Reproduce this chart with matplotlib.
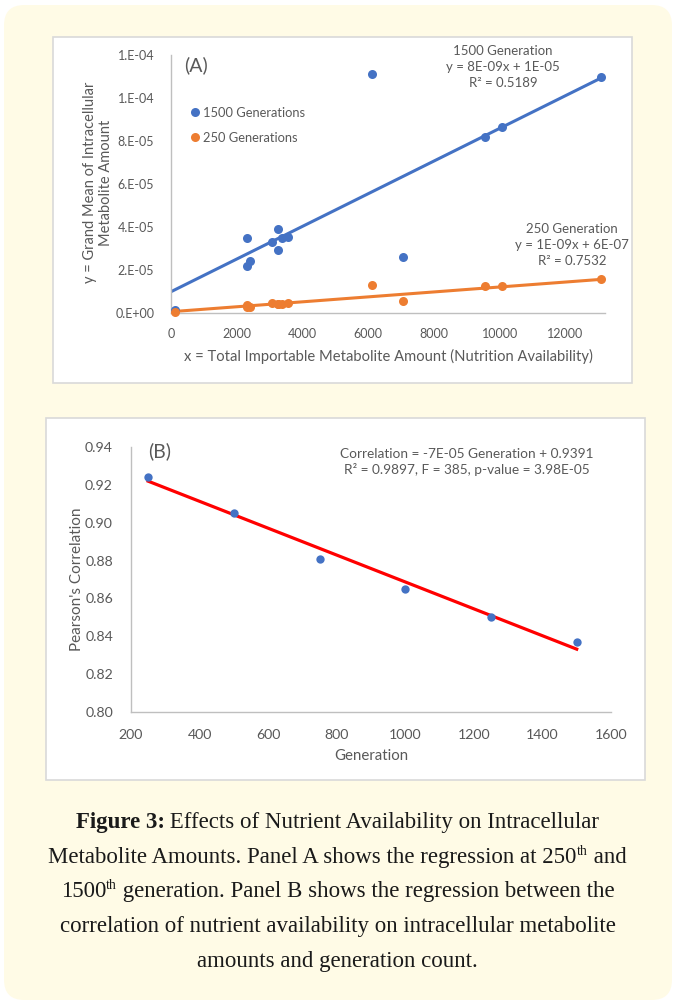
import matplotlib
matplotlib.use("Agg")
import matplotlib.pyplot as plt
from matplotlib.patches import FancyBboxPatch, Rectangle
import numpy as np

# ---------------- data ----------------
x_nutrition = [120, 2320, 2320, 2400, 3065, 3250, 3250, 3390, 3570, 6110, 7070, 9560, 10070, 13080]
y_1500 = [1.4e-6, 34.7e-6, 22.0e-6, 24.3e-6, 32.9e-6, 38.9e-6, 29.3e-6, 34.7e-6, 35.5e-6,
          111e-6, 25.9e-6, 81.7e-6, 86.7e-6, 109.9e-6]
y_250 = [0.3e-6, 3.7e-6, 2.6e-6, 3.0e-6, 4.5e-6, 4.2e-6, 4.0e-6, 4.3e-6, 4.6e-6,
         13.0e-6, 5.6e-6, 12.6e-6, 12.7e-6, 15.7e-6]
fit_1500 = (7.6e-9, 9.9e-6)    # slope, intercept (as drawn)
fit_250 = (1.15e-9, 0.6e-6)
fit_range_A = (0, 13080)

generation = [250, 500, 750, 1000, 1250, 1500]
pearson = [0.9242, 0.905, 0.881, 0.8649, 0.850, 0.8368]
fit_B = (-7.1e-5, 0.9397)

xticks_A = [0, 2000, 4000, 6000, 8000, 10000, 12000]
yticks_A = [0, 2e-5, 4e-5, 6e-5, 8e-5, 1e-4, 1.2e-4]
yticklabels_A = ["0.E+00", "2.E-05", "4.E-05", "6.E-05", "8.E-05", "1.E-04", "1.E-04"]
xticks_B = [200, 400, 600, 800, 1000, 1200, 1400, 1600]
yticks_B = [0.80, 0.82, 0.84, 0.86, 0.88, 0.90, 0.92, 0.94]

# caption segments: (text, style) with style 'r' regular, 'b' bold, 's' superscript
caption_lines = [
    [("Figure 3:", "b"), (" Effects of Nutrient Availability on Intracellular", "r")],
    [("Metabolite Amounts. Panel A shows the regression at 250", "r"), ("th", "s"), (" and", "r")],
    [("1500", "r"), ("th", "s"), (" generation. Panel B shows the regression between the", "r")],
    [("correlation of nutrient availability on intracellular metabolite", "r")],
    [("amounts and generation count.", "r")],
]

# ---------------- style ----------------
W, H = 675, 1001
BLUE = "#4472C4"
ORANGE = "#ED7D31"
GRAY = "#595959"
AXIS = "#BFBFBF"
plt.rcParams['font.family'] = ['Lato', 'DejaVu Sans']

fig = plt.figure(figsize=(W / 100, H / 100), dpi=100)
fig.patch.set_facecolor("white")


def fx(px):
    return px / W


def fy(py):
    return 1 - py / H


def box(x0, y0, x1, y1):
    return [fx(x0), fy(y1), fx(x1) - fx(x0), fy(y0) - fy(y1)]


# yellow rounded background
bg = FancyBboxPatch((fx(4), fy(1000)), fx(668), 995 / H,
                    boxstyle="round,pad=0,rounding_size=0.03",
                    transform=fig.transFigure, facecolor="#FFFBE6", edgecolor="none",
                    mutation_aspect=W / H, zorder=-20)
fig.patches.append(bg)
# white panels
for (x0, y0, x1, y1) in [(53, 37, 632, 383), (46, 418, 645, 780)]:
    fig.patches.append(Rectangle((fx(x0), fy(y1)), fx(x1) - fx(x0), fy(y0) - fy(y1),
                                 transform=fig.transFigure, facecolor="white",
                                 edgecolor="#D9D9D9", linewidth=1.2, zorder=-10))


def style_axes(ax, xpad, ypad, size):
    for s in ["top", "right"]:
        ax.spines[s].set_visible(False)
    for s in ["left", "bottom"]:
        ax.spines[s].set_color(AXIS)
        ax.spines[s].set_linewidth(1.0)
    ax.tick_params(length=0, colors=GRAY, labelsize=size)
    ax.tick_params(axis="x", pad=xpad)
    ax.tick_params(axis="y", pad=ypad)
    ax.set_facecolor("none")


# ---------------- Panel A ----------------
axA = fig.add_axes(box(171, 55, 605, 313))
style_axes(axA, 11, 12, 9.0)
axA.set_xlim(0, 13200)
axA.set_ylim(0, 1.2e-4)
axA.set_xticks(xticks_A)
axA.set_yticks(yticks_A)
axA.set_yticklabels(yticklabels_A)
xs = np.array(fit_range_A)
axA.plot(xs, fit_1500[0] * xs + fit_1500[1], color=BLUE, lw=2.2, zorder=2)
axA.plot(xs, fit_250[0] * xs + fit_250[1], color=ORANGE, lw=2.2, zorder=2)
axA.plot(x_nutrition, y_1500, 'o', color=BLUE, ms=6.5, mec='none', zorder=3,
         label="1500 Generations", clip_on=False)
axA.plot(x_nutrition, y_250, 'o', color=ORANGE, ms=6.5, mec='none', zorder=3,
         label="250 Generations", clip_on=False)
leg = axA.legend(loc="upper left", bbox_to_anchor=(0.02, 0.845), frameon=False,
                 handlelength=0.6, handletextpad=0.3, labelspacing=1.0,
                 fontsize=9.3, markerscale=1.0)
for t in leg.get_texts():
    t.set_color(GRAY)
axA.text(0.03, 0.96, "(A)", transform=axA.transAxes, fontsize=14, color=GRAY,
         va="center", ha="left")
axA.text(10100, 114.4e-6, "1500 Generation\ny = 8E-09x + 1E-05\nR² = 0.5189",
         ha="center", va="center", fontsize=9.5, color=GRAY, linespacing=1.36)
axA.text(12196, 31.6e-6, "250 Generation\ny = 1E-09x + 6E-07\nR² = 0.7532",
         ha="center", va="center", fontsize=9.5, color=GRAY, linespacing=1.36)
axA.set_xlabel("x = Total Importable Metabolite Amount (Nutrition Availability)",
               color=GRAY, fontsize=10.6)
axA.xaxis.set_label_coords(0.5, -0.14)
axA.set_ylabel("y = Grand Mean of Intracellular\nMetabolite Amount",
               color=GRAY, fontsize=10.5, linespacing=1.15)
axA.yaxis.set_label_coords(-0.134, 0.505)

# ---------------- Panel B ----------------
axB = fig.add_axes(box(131, 447, 611, 712))
style_axes(axB, 12, 13, 10.2)
axB.set_xlim(200, 1600)
axB.set_ylim(0.80, 0.94)
axB.set_xticks(xticks_B)
axB.set_yticks(yticks_B)
axB.set_yticklabels([f"{v:.2f}" for v in yticks_B])
gx = np.array([generation[0], generation[-1]])
axB.plot(gx, fit_B[0] * gx + fit_B[1], color="#FF0000", lw=2.3, zorder=2)
axB.plot(generation, pearson, 'o', color=BLUE, ms=6.0, mec='none', zorder=3, clip_on=False)
axB.text(0.035, 0.985, "(B)", transform=axB.transAxes, fontsize=14, color=GRAY,
         va="center", ha="left")
axB.text(1180, 0.9319, "Correlation = -7E-05 Generation + 0.9391\n"
         "R² = 0.9897, F = 385, p-value = 3.98E-05",
         ha="center", va="center", fontsize=9.8, color=GRAY, linespacing=1.3)
axB.set_xlabel("Generation", color=GRAY, fontsize=10.8)
axB.xaxis.set_label_coords(0.5, -0.14)
axB.set_ylabel("Pearson's Correlation", color=GRAY, fontsize=11)
axB.yaxis.set_label_coords(-0.098, 0.5)

# ---------------- caption ----------------
cap_y = [822, 857, 891, 926, 961]
CAP_FS = 16.5
renderer = fig.canvas.get_renderer()
for segs, yy in zip(caption_lines, cap_y):
    objs = []
    for txt, st in segs:
        if st == "s":
            t = fig.text(0, 0, txt, fontsize=CAP_FS * 0.6, family="Liberation Serif",
                         color="#1a1a1a", va="baseline", ha="left")
        else:
            t = fig.text(0, 0, txt, fontsize=CAP_FS, family="Liberation Serif",
                         weight="bold" if st == "b" else "normal",
                         color="#1a1a1a", va="baseline", ha="left")
        objs.append((t, st))
    widths = [o.get_window_extent(renderer).width for o, _ in objs]
    total = sum(widths)
    x = W / 2 - total / 2
    base = yy + 6  # baseline in pixels from top
    for (o, st), w in zip(objs, widths):
        yb = base - (8 if st == "s" else 0)
        o.set_position((fx(x), fy(yb)))
        x += w

fig.savefig("out.png", dpi=100, facecolor="white")
